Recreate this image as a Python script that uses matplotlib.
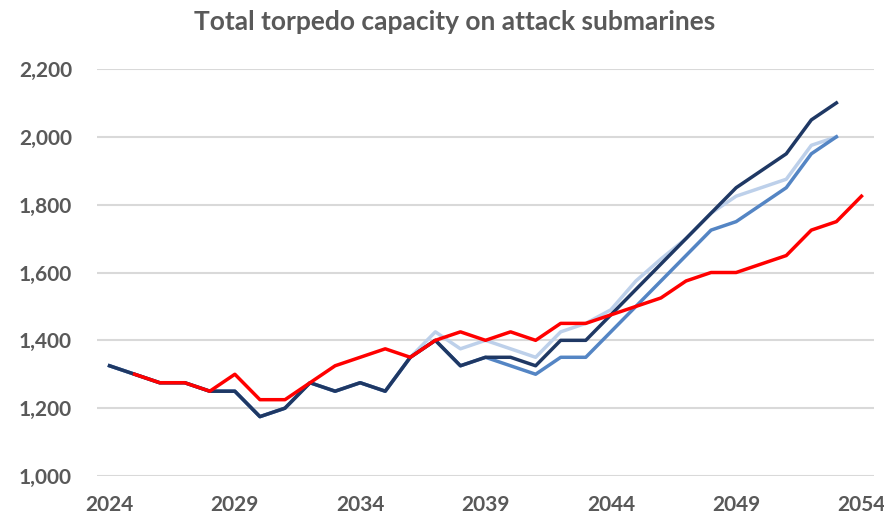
import matplotlib
matplotlib.use("Agg")
import matplotlib.pyplot as plt
import numpy as np

years = list(range(2024, 2055))

dark = [1325, 1300, 1275, 1275, 1250, 1250, 1175, 1200, 1275, 1250,
        1275, 1250, 1350, 1400, 1325, 1350, 1350, 1325, 1400, 1400,
        1475, 1550, 1625, 1700, 1775, 1850, 1900, 1950, 2050, 2100, None]
light = [1325, 1300, 1275, 1275, 1250, 1250, 1175, 1200, 1275, 1250,
         1275, 1250, 1350, 1425, 1375, 1400, 1375, 1350, 1425, 1450,
         1490, 1575, 1640, 1700, 1775, 1825, 1850, 1875, 1975, 2000, None]
medium = [1325, 1300, 1275, 1275, 1250, 1250, 1175, 1200, 1275, 1250,
          1275, 1250, 1350, 1400, 1325, 1350, 1325, 1300, 1350, 1350,
          1425, 1500, 1575, 1650, 1725, 1750, 1800, 1850, 1950, 2000, None]
red = [None, 1300, 1275, 1275, 1250, 1300, 1225, 1225, 1275, 1325,
       1350, 1375, 1350, 1400, 1425, 1400, 1425, 1400, 1450, 1450,
       1475, 1500, 1525, 1575, 1600, 1600, 1625, 1650, 1725, 1750, 1825]

title = "Total torpedo capacity on attack submarines"
yticks = [1000, 1200, 1400, 1600, 1800, 2000, 2200]
xticks = [2024, 2029, 2034, 2039, 2044, 2049, 2054]

def arr(v):
    return np.array([np.nan if x is None else x for x in v], dtype=float)

plt.rcParams['font.family'] = ['Lato', 'DejaVu Sans']
fig = plt.figure(figsize=(8.84, 5.21), dpi=100)
ax = fig.add_axes([97/884, 1-476/521, (874-97)/884, (476-69)/521])

for y in yticks:
    ax.axhline(y, color='#d9d9d9', lw=1.5, zorder=0)

ax.plot(years, arr(light), color='#bdd0ea', lw=2.5, zorder=2)
ax.plot(years, arr(medium), color='#5485c4', lw=2.5, zorder=3)
ax.plot(years, arr(dark), color='#1f3864', lw=2.5, zorder=4)
ax.plot(years, arr(red), color='#ff0000', lw=2.5, zorder=5)

ax.set_xlim(2023.5, 2054.5)
ax.set_ylim(1000, 2200)
ax.set_yticks(yticks)
ax.set_yticklabels([f"{v:,}" for v in yticks])
ax.set_xticks(xticks)
ax.set_xticklabels([str(v) for v in xticks])
for s in ax.spines.values():
    s.set_visible(False)
ax.tick_params(length=0, colors='#595959', labelsize=15)
ax.tick_params(axis='y', pad=18)
ax.tick_params(axis='x', pad=14)
for lab in ax.get_xticklabels() + ax.get_yticklabels():
    lab.set_fontweight('bold')
ax.grid(False)

fig.text(455/884, 1-22/521, title, ha='center', va='center', fontsize=19,
         fontweight='bold', color='#595959')

fig.savefig("out.png", dpi=100)
